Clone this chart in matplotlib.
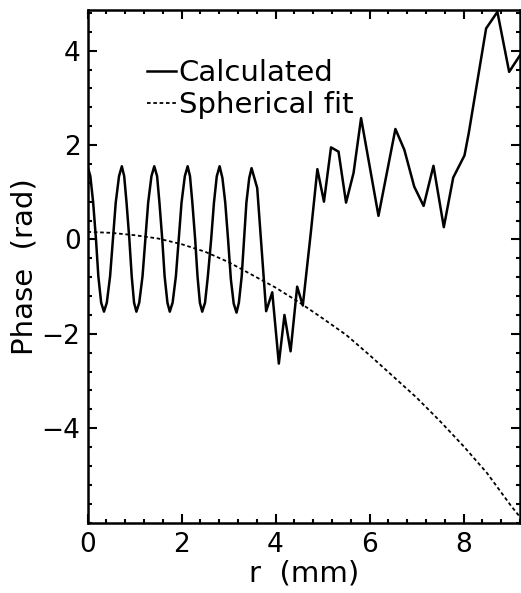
import numpy as np
import matplotlib
matplotlib.use('Agg')
import matplotlib.pyplot as plt
from matplotlib.ticker import MultipleLocator

# Dane
r_calc = [0.00, 0.06, 0.12, 0.18, 0.23, 0.29, 0.35,
          0.41, 0.48, 0.54, 0.60, 0.67, 0.73,
          0.78, 0.83, 0.89, 0.94, 0.99, 1.04,
          1.10, 1.17, 1.23, 1.29, 1.36, 1.42,
          1.48, 1.53, 1.59, 1.64, 1.70, 1.75,
          1.81, 1.88, 1.94, 2.00, 2.07, 2.13,
          2.18, 2.23, 2.29, 2.34, 2.39, 2.44,
          2.50, 2.56, 2.63, 2.69, 2.75, 2.81,
          2.87, 2.93, 2.99, 3.05, 3.11, 3.17,
          3.22, 3.28, 3.33, 3.38, 3.44, 3.49,
          3.61, 3.80, 3.93, 4.07, 4.19, 4.32, 4.46, 4.58, 4.75,
          4.89, 5.03, 5.18, 5.34, 5.50, 5.66, 5.82, 6.19, 6.55, 6.74, 6.95, 7.15,
          7.36, 7.58, 7.78, 8.02, 8.11, 8.48, 8.72, 8.97, 9.20]
faza_calc = [1.55, 1.34, 0.78, 0.00, -0.78, -1.34, -1.53,
             -1.34, -0.78, 0.00, 0.78, 1.34, 1.55,
             1.34, 0.78, 0.00, -0.78, -1.34, -1.53,
             -1.34, -0.78, 0.00, 0.78, 1.34, 1.55,
             1.34, 0.78, 0.00, -0.78, -1.34, -1.53,
             -1.34, -0.78, 0.00, 0.78, 1.34, 1.55,
             1.34, 0.78, 0.00, -0.78, -1.34, -1.53,
             -1.34, -0.78, 0.00, 0.78, 1.34, 1.55,
             1.30, 0.78, 0.00, -0.85, -1.36, -1.55,
             -1.34, -0.78, 0.00, 0.78, 1.30, 1.51,
             1.09, -1.52, -1.12, -2.63, -1.60, -2.37, -1.00, -1.40, 0.14,
             1.49, 0.80, 1.95, 1.86, 0.78, 1.41, 2.57, 0.50, 2.34, 1.90, 1.12, 0.71,
             1.56, 0.26, 1.31, 1.78, 2.25, 4.47, 4.82, 3.55, 3.90]

r_fit = [0.0, 0.5, 1.0, 1.5, 2.0, 2.5, 3.0, 3.5, 4.0, 4.5, 5.0, 5.5, 6.0, 6.5,
         7.0, 7.5, 8.0, 8.5, 9.0, 9.2]
faza_fit = [0.16, 0.14, 0.09, 0.02, -0.10, -0.26, -0.48, -0.75, -1.02, -1.33, -1.67,
            -2.02, -2.45, -2.90, -3.35, -3.85, -4.38, -4.95, -5.63, -5.88]

plt.rcParams['font.family'] = ['DejaVu Sans']
plt.rcParams['font.size'] = 19

fig = plt.figure(figsize=(5.21, 5.93), dpi=100)
ax = fig.add_axes([0.168, 0.1186, 0.830, 0.8645])

ax.plot(r_calc, faza_calc, color='black', lw=1.8, label='Calculated')
ax.plot(r_fit, faza_fit, color='black', lw=1.3, linestyle=(0, (2, 1.5)),
        label='Spherical fit')

ax.set_xlim(0, 9.2)
ax.set_ylim(-6, 4.86)
ax.set_xticks([0, 2, 4, 6, 8])
ax.set_yticks([-4, -2, 0, 2, 4])
ax.xaxis.set_minor_locator(MultipleLocator(0.4))
ax.yaxis.set_minor_locator(MultipleLocator(0.4))
ax.tick_params(which='both', direction='in', top=True, right=True, width=1.5)
ax.tick_params(which='major', length=6.5)
ax.tick_params(which='minor', length=3.2)
ax.tick_params(axis='x', pad=7)
ax.tick_params(axis='y', pad=5)
for s in ax.spines.values():
    s.set_linewidth(1.8)

ax.set_xlabel('r  (mm)', fontsize=21, labelpad=1)
ax.set_ylabel('Phase  (rad)', fontsize=21, labelpad=2)

ax.legend(loc='upper left', bbox_to_anchor=(0.137, 0.905), frameon=False,
          handlelength=1.0, handletextpad=0.1, labelspacing=0.15,
          borderaxespad=0, borderpad=0, fontsize=21)

fig.savefig('out.png', dpi=100)
